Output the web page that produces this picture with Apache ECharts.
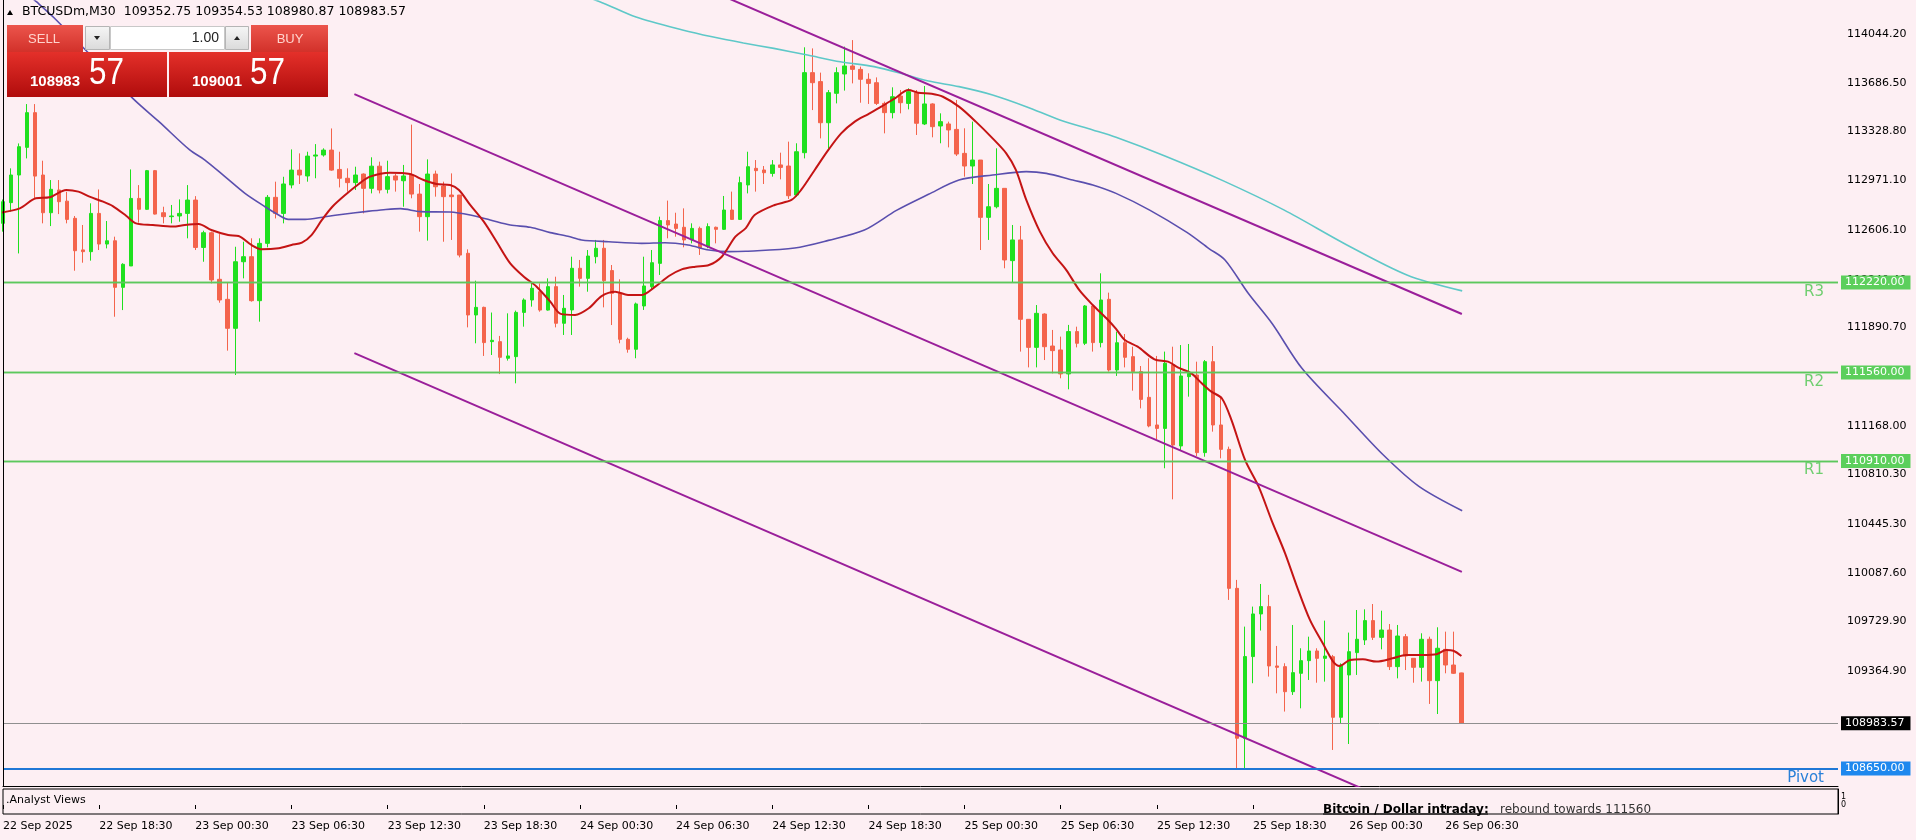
<!DOCTYPE html>
<html>
<head>
<meta charset="utf-8">
<script src="https://cdn.jsdelivr.net/npm/echarts@6/dist/echarts.min.js"></script>
<style>
html,body{margin:0;padding:0;background:#fdeff3;}
#chart{width:1916px;height:840px;}
</style>
</head>
<body>
<div id="chart"></div>
<script>
// ---------------- data ----------------
const symbolName = 'BTCUSDm,M30';
const headerQuote = ['109352.75', '109354.53', '108980.87', '108983.57'];
const bidQuote = ['108983', '57'];
const askQuote = ['109001', '57'];
const lotSize = '1.00';

const xTickLabels = ['22 Sep 2025', '22 Sep 18:30', '23 Sep 00:30', '23 Sep 06:30', '23 Sep 12:30',
  '23 Sep 18:30', '24 Sep 00:30', '24 Sep 06:30', '24 Sep 12:30', '24 Sep 18:30', '25 Sep 00:30',
  '25 Sep 06:30', '25 Sep 12:30', '25 Sep 18:30', '26 Sep 00:30', '26 Sep 06:30'];
const barsPerTick = 12;
const slotCount = 230;

const yTickValues = [114044.20, 113686.50, 113328.80, 112971.10, 112606.10, 112240.40, 111890.70,
  111533.00, 111168.00, 110810.30, 110445.30, 110087.60, 109729.90, 109364.90];

const levelNames = ['R3', 'R2', 'R1', 'Pivot'];
const levelValues = [112220.00, 111560.00, 110910.00, 108650.00];
const lastPrice = 108983.57;

// [open, close, low, high]
const candles = [
[112655,112814,112594,112830],[112807,113010,112741,113059],[113010,113218,112434,113242],[113213,113468,113132,113531],
[113468,113002,112838,113531],[113010,112733,112655,113115],[112733,112905,112635,112973],[112900,112814,112723,112973],
[112818,112684,112655,112887],[112692,112454,112307,112709],[112460,112447,112366,112643],[112447,112728,112381,112802],
[112728,112503,112459,112904],[112503,112527,112471,112672],[112527,112185,111969,112557],[112185,112354,112018,112362],
[112342,112838,112342,113051],[112838,112758,112660,112936],[112758,113042,112754,113047],[113042,112723,112720,113047],
[112733,112704,112655,112777],[112704,112709,112655,112790],[112709,112728,112667,112831],[112728,112826,112545,112936],
[112826,112478,112459,112855],[112478,112586,112373,112601],[112586,112239,112214,112594],[112244,112092,112072,112576],
[112097,111884,111720,112219],[111884,112373,111541,112483],[112373,112410,112251,112520],[112410,112087,112080,112545],
[112087,112508,111933,112545],[112508,112846,112479,112863],[112846,112728,112691,112961],[112728,112944,112655,112997],
[112937,113046,112912,113198],[113046,113010,112944,113169],[113003,113149,112961,113181],[113149,113157,112986,113237],
[113157,113193,113145,113206],[113193,113046,113041,113352],[113051,112986,112919,113181],[112986,112954,112888,113059],
[112954,113010,112900,113071],[113017,112912,112728,113022],[112912,113075,112875,113140],[113075,112900,112875,113108],
[112905,112998,112875,113115],[113003,112973,112888,113017],[112968,113003,112777,113084],[113010,112870,112839,113380],
[112870,112704,112594,112944],[112704,113017,112528,113125],[113017,112924,112851,113042],[112929,112851,112520,112961],
[112863,112851,112533,113022],[112863,112422,112405,112863],[112435,111982,111891,112464],[111982,112038,111774,112234],
[112038,111779,111681,112043],[111786,111796,111688,112000],[111786,111671,111548,111828],[111664,111681,111647,111994],
[111676,112001,111480,112014],[112001,112092,111896,112104],[112092,112178,112043,112219],[112153,112018,112006,112214],
[112018,112190,112014,112251],[112190,111921,111891,112263],[111921,112031,111835,112129],[112019,112325,111835,112410],
[112325,112251,112190,112386],[112251,112415,112153,112459],[112410,112472,112361,112533],[112472,112234,112038,112533],
[112308,112141,111908,112349],[112141,111803,111774,112244],[111803,111730,111705,111815],[111730,112063,111664,112073],
[112048,112195,112019,112410],[112190,112366,112166,112459],[112361,112675,112276,112704],[112675,112643,112545,112822],
[112650,112618,112557,112733],[112626,112533,112479,112765],[112533,112618,112508,112655],[112618,112472,112423,112631],
[112484,112631,112472,112655],[112626,112611,112508,112631],[112611,112753,112606,112856],[112753,112684,112680,112888],
[112684,112954,112680,112998],[112937,113071,112875,113181],[113059,113042,112888,113120],[113047,113027,112944,113076],
[113022,113084,112998,113120],[113084,113066,112978,113174],[113076,112858,112834,113255],[112863,113181,112851,113243],
[113174,113762,113132,113948],[113762,113688,113487,113940],[113696,113394,113279,113762],[113394,113615,113189,113634],
[113610,113762,113536,113801],[113752,113811,113630,113953],[113811,113786,113683,114001],[113786,113713,113541,113806],
[113713,113683,113532,113757],[113688,113536,113524,113727],[113536,113468,113316,113549],[113468,113585,113426,113654],
[113590,113541,113463,113634],[113536,113622,113492,113647],[113615,113390,113304,113634],[113385,113532,113377,113664],
[113532,113365,113287,113537],[113370,113402,113243,113463],[113385,113341,113213,113402],[113345,113164,113150,113561],
[113169,113076,112998,113353],[113076,113120,112944,113402],[113120,112699,112459,113120],[112699,112777,112533,112944],
[112777,112912,112765,113206],[112912,112386,112325,112912],[112381,112533,112219,112643],[112533,111950,111713,112636],
[111950,111744,111597,111950],[111744,111994,111597,112055],[111989,111749,111651,111994],[111754,111720,111553,111872],
[111725,111549,111517,111823],[111549,111860,111436,111909],[111860,111774,111744,111896],[111774,112048,111761,112055],
[112048,111779,111713,112055],[111779,112092,111744,112288],[112097,111578,111566,112146],[111578,111778,111534,111859],
[111778,111671,111597,111842],[111676,111566,111426,111749],[111566,111362,111296,111607],[111377,111167,111157,111664],
[111174,111149,111069,111681],[111149,111627,110856,111713],[111615,111027,110628,111749],[111020,111534,110990,111761],
[111529,111553,111382,111769],[111541,110971,110946,111639],[110971,111639,110941,111651],[111639,111174,111125,111754],
[111174,110995,110929,111382],[110995,109974,109889,111015],[109974,108873,108652,110036],[108873,109473,108652,109693],
[109473,109786,109277,109840],[109786,109840,109664,110006],[109840,109404,109326,109926],[109404,109394,109203,109551],
[109399,109215,109069,109424],[109215,109355,109191,109705],[109350,109443,109093,109534],[109443,109514,109301,109619],
[109514,109460,109281,109534],[109460,109477,109289,109737],[109472,109027,108787,109485],[109027,109411,108983,109423],
[109338,109509,108831,109649],[109502,109600,109338,109815],[109595,109737,109558,109820],[109737,109614,109595,109859],
[109614,109668,109526,109810],[109668,109399,109374,109712],[109399,109624,109313,109705],[109619,109477,109374,109639],
[109460,109394,109281,109460],[109394,109600,109289,109644],[109600,109296,109125,109619],[109296,109534,109051,109688],
[109526,109411,109350,109656],[109411,109350,109345,109656],[109352.75,108983.57,108980.87,109354.53]
];

// moving averages: [bar index, price]
const fastMA = [
[-0.4,112733],[2.1,112765],[4.1,112839],[5.8,112846],[7.9,112900],[9.4,112888],[10.8,112851],[12.5,112814],
[13.7,112782],[15.4,112709],[16.6,112655],[18.7,112643],[21.2,112631],[22.7,112643],[24.4,112650],[26.0,112606],
[28.1,112569],[29.4,112562],[31.0,112496],[32.3,112464],[34.4,112472],[36.0,112496],[37.3,112513],[38.5,112569],
[39.8,112680],[41.1,112777],[42.7,112863],[44.4,112944],[45.8,112998],[48.3,113027],[50.8,113017],[52.5,112973],
[54.1,112944],[55.8,112937],[56.9,112900],[58.3,112790],[60.0,112667],[61.6,112520],[63.3,112361],[65.0,112263],
[66.6,112190],[68.3,112080],[69.6,111990],[71.4,111982],[73.1,112031],[74.7,112121],[76.4,112153],[78.0,112129],
[79.7,112129],[81.4,112190],[83.1,112268],[84.7,112317],[86.4,112337],[88.1,112349],[89.7,112410],[91.4,112557],
[92.7,112620],[93.8,112716],[96.3,112790],[98.4,112827],[99.6,112900],[101.3,113047],[103.0,113194],[104.6,113316],
[106.3,113402],[108.0,113458],[109.6,113512],[111.3,113573],[113.0,113634],[114.2,113615],[115.9,113607],[117.3,113585],
[119.3,113512],[121.4,113402],[123.5,113279],[125.2,113169],[126.4,113047],[127.7,112827],[129.4,112594],[131.0,112435],
[132.7,112312],[134.3,112166],[136.0,112055],[137.7,111958],[138.9,111880],[140.0,111798],[141.6,111749],[143.7,111656],
[145.4,111639],[146.6,111597],[148.3,111553],[149.6,111480],[150.8,111419],[152.1,111370],[153.3,111211],[155.0,110917],
[156.7,110721],[158.3,110476],[160.0,110231],[161.4,110000],[163.1,109742],[164.7,109570],[166.0,109436],[166.8,109404],
[168.1,109448],[169.7,109453],[171.4,109436],[173.4,109460],[175.1,109485],[177.2,109485],[178.9,109490],[180.1,109521],
[181.0,109516],[182.0,109477]
];
const midMA = [
[3.0,114340],[4.2,114281],[6.4,114163],[16.2,113573],[19.5,113400],[23.3,113194],[25.2,113120],[27.7,112998],
[30.2,112875],[32.7,112777],[34.4,112716],[35.6,112684],[37.7,112684],[40.2,112704],[42.7,112724],[45.2,112741],
[47.5,112755],[49.6,112763],[52.1,112741],[55.8,112738],[58.3,112716],[60.8,112680],[63.3,112643],[65.8,112626],
[68.3,112587],[70.5,112560],[72.2,112533],[75.6,112520],[79.7,112508],[82.6,112513],[85.5,112496],[88.1,112459],
[90.6,112447],[92.7,112450],[98.8,112474],[103.0,112530],[107.5,112606],[111.5,112750],[115.5,112868],[119.3,112973],
[123.5,113010],[127.7,113035],[130.2,113022],[133.5,112973],[136.0,112937],[138.9,112875],[143.1,112752],[147.7,112590],
[150.5,112470],[152.5,112386],[155.4,112141],[158.4,111917],[162.1,111590],[167.6,111244],[172.2,110957],[176.7,110723],
[182.1,110544]
];
const slowMA = [
[70.0,114370],[74.4,114285],[79.0,114170],[84.8,114075],[88.5,114025],[92.4,113980],[96.2,113940],[100.4,113891],
[104.5,113842],[108.7,113806],[112.8,113744],[115.5,113700],[119.3,113659],[123.5,113598],[127.7,113512],[131.9,113414],
[136.0,113341],[138.9,113287],[145.0,113150],[152.3,112967],[159.9,112752],[167.6,112500],[175.2,112276],[182.1,112159]
];
// trend channel lines: [bar index, price]
const channelUpper = [[90.0,114321],[182.06,111989]];
const channelMiddle = [[43.85,113604],[182.06,110095]];
const channelLower = [[43.85,111702],[172.0,108443]];

// ---------------- chart ----------------
const categories = Array.from({length: slotCount}, (_, i) => String(i));
const chart = echarts.init(document.getElementById('chart'), null, {renderer: 'canvas'});

const FONT = 'DejaVu Sans';
const GREEN = '#1fe01f', RED = '#f4644c';
const levelLine = ['#5cc85c', '#5cc85c', '#5cc85c', '#1f78d6'];
const levelBox = ['#5ccf5c', '#5ccf5c', '#5ccf5c', '#1e88ee'];
const levelText = ['#6fce6f', '#6fce6f', '#6fce6f', '#2a80d8'];

const markData = [];
levelValues.forEach((v, k) => {
  const ls = {color: levelLine[k], width: k === 3 ? 2 : 1.3, type: 'solid'};
  markData.push({
    yAxis: v, lineStyle: ls,
    label: {show: true, position: 'end', distance: 3, formatter: v.toFixed(2),
      backgroundColor: levelBox[k], color: '#fff', padding: [2, 6, 1, 4], fontSize: 11, fontFamily: FONT}
  });
  markData.push({
    yAxis: v, lineStyle: ls,
    label: {show: true, position: 'insideEndBottom', distance: 2, formatter: levelNames[k],
      padding: [0, 12, 0, 0], color: levelText[k], fontSize: 15, fontFamily: FONT}
  });
});
markData.push({
  yAxis: lastPrice,
  lineStyle: {color: '#8f8f8f', width: 1, type: 'solid'},
  label: {show: true, position: 'end', distance: 3, formatter: lastPrice.toFixed(2),
    backgroundColor: '#000', color: '#fff', padding: [2, 6, 1, 4], fontSize: 11, fontFamily: FONT}
});

function lineSeries(data, color, width, smooth) {
  return {type: 'line', xAxisIndex: 1, yAxisIndex: 0, data: data, showSymbol: false, symbol: 'none',
    smooth: smooth, silent: true, lineStyle: {color: color, width: width}, z: 4, animation: false};
}

const tickShown = (i) => i % barsPerTick === 0 && i / barsPerTick < xTickLabels.length;
const lg = (a, b) => new echarts.graphic.LinearGradient(0, 0, 0, 1, [{offset: 0, color: a}, {offset: 1, color: b}]);
function txt(x, y, text, font, fill, align, extra) {
  return Object.assign({type: 'text', z: 110, x: x, y: y,
    style: {text: text, font: font, fill: fill, align: align || 'left', textAlign: align || 'left',
      verticalAlign: 'middle', textVerticalAlign: 'middle'}}, extra || {});
}

const option = {
  animation: false,
  backgroundColor: '#fdeff3',
  grid: [
    {left: 3, right: 78, top: 1, bottom: 54, show: false, outerBoundsMode: 'none'},
    {left: 3, right: 78, top: 789, height: 25, show: true, borderColor: '#000', borderWidth: 1,
      backgroundColor: 'transparent', outerBoundsMode: 'none'}
  ],
  xAxis: [
    {type: 'category', gridIndex: 0, data: categories, boundaryGap: false,
      axisLine: {show: true, lineStyle: {color: '#000', width: 1}}, axisTick: {show: false},
      axisLabel: {show: false}, splitLine: {show: false}},
    {type: 'value', gridIndex: 0, min: 0, max: slotCount - 1, show: false, splitLine: {show: false}},
    {type: 'category', gridIndex: 1, data: categories, boundaryGap: false,
      axisLine: {show: false},
      axisTick: {show: true, interval: (i) => tickShown(i), length: 4, lineStyle: {color: '#000'}},
      axisLabel: {show: true, interval: (i) => tickShown(i), align: 'left', margin: 7,
        color: '#000', fontSize: 11, fontFamily: FONT,
        formatter: (v, i) => tickShown(i) ? xTickLabels[i / barsPerTick] : ''},
      splitLine: {show: false}}
  ],
  yAxis: [
    {type: 'value', gridIndex: 0, position: 'right', min: 108522.3, max: 114288.1,
      axisLine: {show: true, lineStyle: {color: '#000', width: 1}},
      axisTick: {show: false},
      axisLabel: {show: true, customValues: yTickValues, margin: 9, color: '#000', fontSize: 11,
        fontFamily: FONT, formatter: (v) => Number(v).toFixed(2)},
      splitLine: {show: false}},
    {type: 'value', gridIndex: 1, position: 'right', min: -1.125, max: 2,
      axisLine: {show: true, lineStyle: {color: '#000', width: 1}},
      axisTick: {show: false},
      axisLabel: {show: true, customValues: [0, 1], margin: 3, color: '#000', fontSize: 8,
        lineHeight: 8, hideOverlap: false, fontFamily: FONT},
      splitLine: {show: false}}
  ],
  series: [
    {type: 'candlestick', xAxisIndex: 0, yAxisIndex: 0, data: candles, barWidth: 4, silent: true, z: 3,
      itemStyle: {color: GREEN, color0: RED, borderColor: GREEN, borderColor0: RED, borderWidth: 1},
      markLine: {silent: true, symbol: ['none', 'none'], animation: false, emphasis: {disabled: true},
        data: markData}},
    lineSeries(slowMA, '#5ec8c8', 1.6, 0.3),
    lineSeries(midMA, '#5a4fae', 1.6, 0.3),
    lineSeries(fastMA, '#c41414', 2, 0.3),
    lineSeries(channelUpper, '#9a1f9a', 2, false),
    lineSeries(channelMiddle, '#9a1f9a', 2, false),
    lineSeries(channelLower, '#9a1f9a', 2, false),
    {type: 'line', xAxisIndex: 2, yAxisIndex: 1, data: [], showSymbol: false}
  ],
  graphic: [
    // left frame edge of the main window
    {type: 'line', z: 50, shape: {x1: 3.5, y1: 0, x2: 3.5, y2: 786}, style: {stroke: '#000', lineWidth: 1}},
    {type: 'polygon', z: 110, shape: {points: [[7, 15], [13, 15], [10, 10]]}, style: {fill: '#000'}},
    txt(22, 12, symbolName + '  ' + headerQuote.join(' '), '12.5px "DejaVu Sans"', '#000'),
    // one-click trading panel
    {type: 'rect', z: 105, shape: {x: 7, y: 25, width: 76, height: 27}, style: {fill: lg('#ec554c', '#d2312a')}},
    txt(44, 39, 'SELL', '13px "Liberation Sans"', '#ffd3cc', 'center'),
    {type: 'rect', z: 105, shape: {x: 85.5, y: 26.5, width: 24, height: 23}, style: {fill: lg('#f6f6f6', '#dadada'), stroke: '#b5b5b5', lineWidth: 1}},
    {type: 'polygon', z: 110, shape: {points: [[94, 36], [100, 36], [97, 40]]}, style: {fill: '#222'}},
    {type: 'rect', z: 105, shape: {x: 110.5, y: 26.5, width: 114, height: 23}, style: {fill: '#fff', stroke: '#c8c8c8', lineWidth: 1}},
    txt(219, 38, lotSize, '14px "Liberation Sans"', '#222', 'right'),
    {type: 'rect', z: 105, shape: {x: 225.5, y: 26.5, width: 23, height: 23}, style: {fill: lg('#f6f6f6', '#dadada'), stroke: '#b5b5b5', lineWidth: 1}},
    {type: 'polygon', z: 110, shape: {points: [[234, 40], [240, 40], [237, 36]]}, style: {fill: '#222'}},
    {type: 'rect', z: 105, shape: {x: 251, y: 25, width: 77, height: 27}, style: {fill: lg('#ec554c', '#d2312a')}},
    txt(290, 39, 'BUY', '13px "Liberation Sans"', '#ffd3cc', 'center'),
    {type: 'rect', z: 105, shape: {x: 7, y: 52, width: 160, height: 45}, style: {fill: lg('#e4302a', '#b00c0c')}},
    txt(30, 82, bidQuote[0], 'bold 15px "Liberation Sans"', '#fff'),
    txt(89, 73.5, bidQuote[1], '37px "Liberation Sans"', '#fff', 'left', {scaleX: 0.85}),
    {type: 'rect', z: 105, shape: {x: 169, y: 52, width: 159, height: 45}, style: {fill: lg('#e4302a', '#b00c0c')}},
    txt(192, 82, askQuote[0], 'bold 15px "Liberation Sans"', '#fff'),
    txt(250, 73.5, askQuote[1], '37px "Liberation Sans"', '#fff', 'left', {scaleX: 0.85}),
    // analyst views sub panel
    txt(6, 800, '.Analyst Views', '11px "DejaVu Sans"', '#000'),
    txt(1323, 809.5, 'Bitcoin / Dollar intraday:', 'bold 12px "DejaVu Sans"', '#000'),
    {type: 'line', z: 110, shape: {x1: 1323, y1: 814, x2: 1488, y2: 814}, style: {stroke: '#000', lineWidth: 1}},
    txt(1500, 809.5, 'rebound towards 111560', '12px "DejaVu Sans"', '#333')
  ]
};
chart.setOption(option);
</script>
</body>
</html>
